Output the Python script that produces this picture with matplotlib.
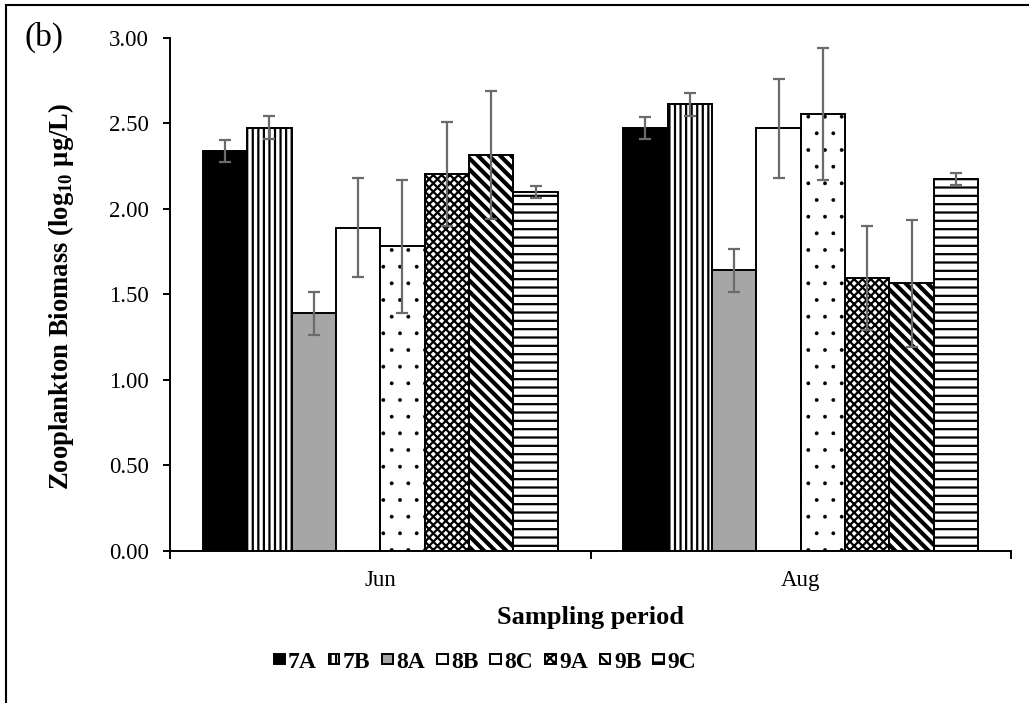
import numpy as np
import matplotlib
matplotlib.use("Agg")
import matplotlib.pyplot as plt
from matplotlib.lines import Line2D

# data
periods = ["Jun", "Aug"]
sites = ["7A", "7B", "8A", "8B", "8C", "9A", "9B", "9C"]
jun_vals = [2.34, 2.475, 1.39, 1.89, 1.78, 2.205, 2.315, 2.10]
aug_vals = [2.47, 2.61, 1.64, 2.47, 2.555, 1.595, 1.565, 2.175]
jun_err = [0.065, 0.065, 0.125, 0.29, 0.387, 0.305, 0.372, 0.036]
aug_err = [0.064, 0.067, 0.124, 0.29, 0.387, 0.303, 0.372, 0.036]

fills = ["black", "white", "#a6a6a6", "white", "white", "white", "white", "white"]
hatches = [None, "|||", None, None, ".", "xxxx", "\\\\\\", "--"]
# per-bar hatch line widths (None -> rc default)
hatch_lw = {"8C": 0.3, "9B": 3.0}

plt.rcParams["font.family"] = ["Liberation Serif", "DejaVu Serif"]
plt.rcParams["mathtext.fontset"] = "custom"
plt.rcParams["mathtext.rm"] = "Liberation Serif"
plt.rcParams["mathtext.bf"] = "Liberation Serif:bold"
plt.rcParams["hatch.linewidth"] = 1.6

fig = plt.figure(figsize=(10.29, 7.03), dpi=100)
ax = fig.add_axes([170 / 1029, 1 - 551 / 703, 841 / 1029, (551 - 37.7) / 703])

x = np.arange(len(periods))
w = 0.1055
vals = np.array([jun_vals, aug_vals])
errs = np.array([jun_err, aug_err])

handles = []
for i, s in enumerate(sites):
    pos = x + (i - 3.5) * w
    bars = ax.bar(pos, vals[:, i], width=w, color=fills[i], edgecolor="black",
                  linewidth=1.4, hatch=hatches[i], label=s, zorder=2)
    if s in hatch_lw:
        for p in bars:
            if hasattr(p, "set_hatch_linewidth"):
                p.set_hatch_linewidth(hatch_lw[s])
    ax.errorbar(pos, vals[:, i], yerr=errs[:, i], fmt="none", ecolor="#6b6b6b",
                elinewidth=1.6, capsize=4.3, capthick=1.6, zorder=3)
    handles.append(bars)

ax.set_xlim(-0.5, 1.5)
ax.set_ylim(0, 3)
ax.set_yticks(np.arange(0, 3.01, 0.5))
ax.set_yticklabels([f"{v:.2f}" for v in np.arange(0, 3.01, 0.5)])
ax.set_xticks(x)
ax.set_xticklabels(periods)
ax.set_xticks([-0.5, 0.5, 1.5], minor=True)
ax.tick_params(axis="x", which="major", length=0, pad=14, labelsize=16.5)
ax.tick_params(axis="x", which="minor", length=6, width=1.4, direction="out")
ax.tick_params(axis="y", length=5, width=1.4, pad=10, labelsize=16.5)

for side in ["top", "right"]:
    ax.spines[side].set_visible(False)
for side in ["left", "bottom"]:
    ax.spines[side].set_linewidth(1.4)

ax.set_ylabel(r"Zooplankton Biomass (log$_{\mathbf{10}}$ µg/L)", fontsize=19.2,
              fontweight="bold")
ax.yaxis.set_label_coords(-0.112, 0.495)
ax.set_xlabel("Sampling period", fontsize=19, fontweight="bold")
ax.xaxis.set_label_coords(0.5, -(606 - 551) / (551 - 37.7))

fig.legend(handles=handles, labels=sites, loc="center", ncol=8,
           bbox_to_anchor=(485 / 1029, 1 - 662 / 703), frameon=False,
           prop={"weight": "bold", "size": 17}, handlelength=0.45,
           handleheight=0.33, handletextpad=0.15, columnspacing=0.5,
           borderpad=0.2)

fig.text(25 / 1029, 1 - 37 / 703, "(b)", fontsize=24, va="center", ha="left")

# frame lines around the figure (top and left only are visible)
fig.add_artist(Line2D([6 / 1029, 1], [1 - 5 / 703, 1 - 5 / 703], color="black",
                      linewidth=1.5, transform=fig.transFigure))
fig.add_artist(Line2D([6 / 1029, 6 / 1029], [0, 1 - 5 / 703], color="black",
                      linewidth=1.5, transform=fig.transFigure))

fig.savefig("out.png", dpi=100, facecolor="white")
